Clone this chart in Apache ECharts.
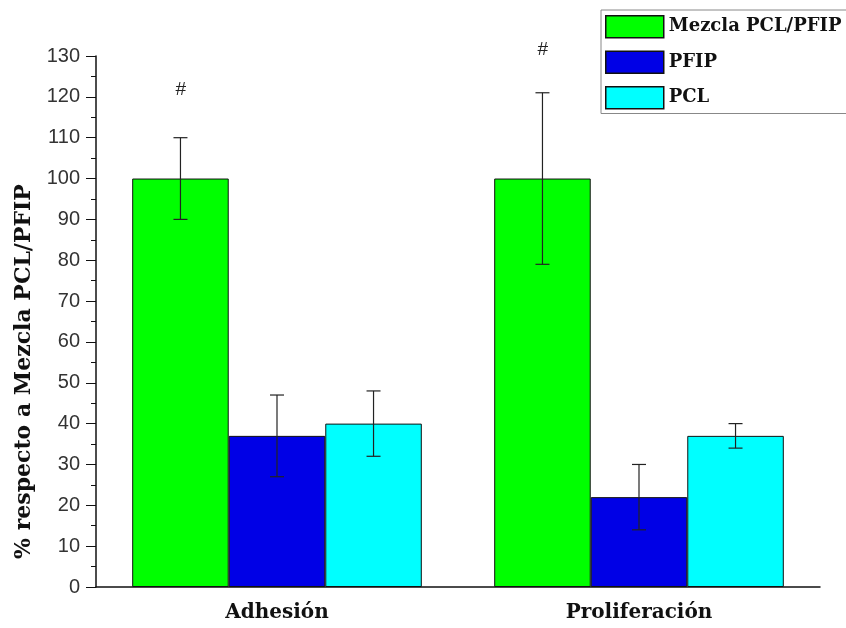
<!DOCTYPE html>
<html>
<head>
<meta charset="utf-8">
<script src="https://cdn.jsdelivr.net/npm/echarts@6/dist/echarts.min.js"></script>
<style>
html,body{margin:0;padding:0;background:#fff;}
#chart{width:846px;height:628px;}
</style>
</head>
<body>
<div id="chart"></div>
<script>
const categories = ['Adhesión', 'Proliferación'];
const seriesNames = ['Mezcla PCL/PFIP', 'PFIP', 'PCL'];
const mezclaValues = [100, 100];
const pfipValues = [37, 22];
const pclValues = [40, 37];
const mezclaErr = [10, 21];
const pfipErr = [10, 8];
const pclErr = [8, 3];
const hashValues = [121.7, 131.5];
const yTicks = [0, 130, 10];

const colors = ['#00ff00', '#0000e6', '#00ffff'];
const values = [mezclaValues, pfipValues, pclValues];
const errs = [mezclaErr, pfipErr, pclErr];
const serifFont = '"DejaVu Serif", "Liberation Serif", serif';

const errData = [];
for (let s = 0; s < 3; s++) {
  for (let c = 0; c < categories.length; c++) {
    errData.push([c, s, values[s][c] - errs[s][c], values[s][c] + errs[s][c]]);
  }
}
const hashData = hashValues.map((v, c) => [c, v]);

const chart = echarts.init(document.getElementById('chart'));
const barSeries = seriesNames.map((name, i) => ({
  name: name,
  type: 'bar',
  data: values[i],
  barGap: 0,
  barCategoryGap: '20%',
  itemStyle: { color: colors[i], borderColor: '#111', borderWidth: 1 },
  z: 2
}));

chart.setOption({
  backgroundColor: '#fff',
  animation: false,
  grid: { left: 96, right: 26, top: 56, bottom: 41 },
  legend: {
    orient: 'vertical',
    left: 601,
    top: 10,
    padding: [5, 60, 4, 4],
    itemWidth: 58,
    itemHeight: 22,
    itemGap: 12,
    backgroundColor: '#fff',
    borderColor: '#888',
    borderWidth: 1,
    icon: 'rect',
    itemStyle: { borderColor: '#111', borderWidth: 1.5 },
    textStyle: { fontFamily: serifFont, fontWeight: 'bold', fontSize: 18, color: '#111' },
    data: seriesNames
  },
  xAxis: {
    type: 'category',
    data: categories,
    axisLine: { lineStyle: { color: '#111', width: 1.5 } },
    axisTick: { alignWithLabel: true, length: 6, lineStyle: { color: '#111' } },
    axisLabel: { fontFamily: serifFont, fontWeight: 'bold', fontSize: 20, color: '#111', margin: 16 }
  },
  yAxis: {
    type: 'value',
    min: yTicks[0],
    max: yTicks[1],
    interval: yTicks[2],
    name: '% respecto a Mezcla PCL/PFIP',
    nameLocation: 'middle',
    nameGap: 57,
    nameTextStyle: { fontFamily: serifFont, fontWeight: 'bold', fontSize: 22, color: '#111', padding: [0, 100, 0, 0] },
    axisLine: { show: true, lineStyle: { color: '#111', width: 1.5 } },
    axisTick: { show: true, length: 10, lineStyle: { color: '#111' } },
    minorTick: { show: true, splitNumber: 2, length: 5, lineStyle: { color: '#111' } },
    splitLine: { show: false },
    axisLabel: { fontFamily: '"Liberation Sans", Arial, sans-serif', fontSize: 20, color: '#333', margin: 16 }
  },
  series: barSeries.concat([
    {
      type: 'custom',
      name: 'err',
      data: errData,
      z: 5,
      encode: { x: 0, y: [2, 3] },
      renderItem: function (params, api) {
        const cat = api.value(0), s = api.value(1), lo = api.value(2), hi = api.value(3);
        const bandW = api.size([1, 0])[0];
        const barW = bandW * 0.8 / 3;
        const pLo = api.coord([cat, lo]);
        const pHi = api.coord([cat, hi]);
        const x = pLo[0] + (s - 1) * barW;
        const cap = 7;
        const st = { stroke: '#222', lineWidth: 1.2 };
        return {
          type: 'group',
          children: [
            { type: 'line', shape: { x1: x, y1: pLo[1], x2: x, y2: pHi[1] }, style: st },
            { type: 'line', shape: { x1: x - cap, y1: pLo[1], x2: x + cap, y2: pLo[1] }, style: st },
            { type: 'line', shape: { x1: x - cap, y1: pHi[1], x2: x + cap, y2: pHi[1] }, style: st }
          ]
        };
      }
    },
    {
      type: 'custom',
      name: 'hash',
      data: hashData,
      clip: false,
      z: 5,
      renderItem: function (params, api) {
        const cat = api.value(0), v = api.value(1);
        const bandW = api.size([1, 0])[0];
        const barW = bandW * 0.8 / 3;
        const p = api.coord([cat, v]);
        return {
          type: 'text',
          x: p[0] - barW,
          y: p[1],
          style: { text: '#', fontSize: 19, fontStyle: 'italic', fontFamily: '"Liberation Sans", sans-serif', fill: '#222', align: 'center', verticalAlign: 'middle' }
        };
      }
    }
  ])
});
</script>
</body>
</html>
